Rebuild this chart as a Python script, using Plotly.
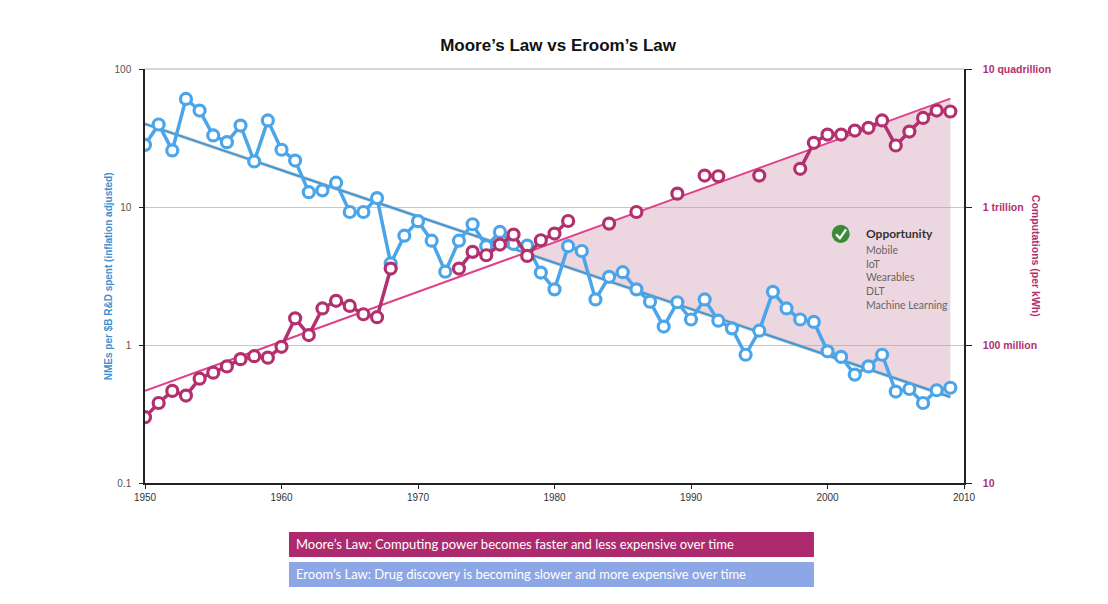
import numpy as np
import plotly.graph_objects as go

# data
years = list(range(1950, 2010))

# Eroom's law: NMEs per $B R&D spent (inflation adjusted)
eroom = [28.2, 39.6, 25.7, 60.7, 50.0, 33.0, 29.5, 38.9, 21.4, 42.4,
         26.0, 21.7, 12.8, 13.2, 15.0, 9.2, 9.2, 11.6, 3.9, 6.2,
         7.9, 5.7, 3.4, 5.7, 7.5, 5.2, 6.6, 5.4, 5.25, 3.35,
         2.53, 5.2, 4.8, 2.14, 3.12, 3.37, 2.53, 2.06, 1.36, 2.04,
         1.53, 2.14, 1.5, 1.32, 0.85, 1.27, 2.43, 1.84, 1.53, 1.47,
         0.9, 0.82, 0.61, 0.7, 0.85, 0.46, 0.48, 0.38, 0.47, 0.49]

# Moore's law: computations per kWh, in the plotted (left scale) units
moore = [0.30, 0.38, 0.465, 0.43, 0.57, 0.63, 0.70, 0.79, 0.83, 0.81,
         0.97, 1.56, 1.18, 1.84, 2.09, 1.92, 1.67, 1.59, 3.58, None,
         None, None, None, 3.58, 4.73, 4.47, 5.34, 6.31, 4.42, 5.74,
         6.42, 7.92, None, None, 7.58, None, 9.2, None, None, 12.5,
         None, 16.9, 16.7, None, None, 16.9, None, None, 18.9, 29.2,
         33.5, 33.5, 35.8, 37.5, 42.4, 27.9, 35.2, 44.2, 50.0, 49.2]

trend_years = [1950, 2009]
eroom_trend = [40, 0.42]
moore_trend = [0.465, 61]

right_ticks = [0.1, 1, 10, 100]
right_labels = ["10", "100 million", "1 trillion", "10 quadrillion"]
opportunity = ["Mobile", "IoT", "Wearables", "DLT", "Machine Learning"]

BLUE = "#4ba5e8"
MAGENTA = "#b3306f"
PINK = "#e0418b"

# where the two trend lines cross (log-linear)
lb = np.log10(eroom_trend)
lm = np.log10(moore_trend)
span = trend_years[1] - trend_years[0]
sb = (lb[1] - lb[0]) / span
sm = (lm[1] - lm[0]) / span
d = (lb[0] - lm[0]) / (sm - sb)
cross_x = trend_years[0] + d
cross_y = 10 ** (lb[0] + sb * d)

fig = go.Figure()

# opportunity gap
fig.add_trace(go.Scatter(
    x=[cross_x, trend_years[1], trend_years[1], cross_x],
    y=[cross_y, moore_trend[1], eroom_trend[1], cross_y],
    mode="lines", line=dict(width=0), fill="toself",
    fillcolor="rgba(200,140,170,0.35)", hoverinfo="skip"))

# trend lines
fig.add_trace(go.Scatter(x=trend_years, y=eroom_trend, mode="lines",
                         line=dict(color="rgba(160,160,160,0.5)", width=3.5)))
fig.add_trace(go.Scatter(x=trend_years, y=eroom_trend, mode="lines",
                         line=dict(color="#3d97d8", width=2)))
fig.add_trace(go.Scatter(x=trend_years, y=moore_trend, mode="lines",
                         line=dict(color=PINK, width=2)))

# series
fig.add_trace(go.Scatter(
    x=years, y=eroom, mode="lines+markers",
    line=dict(color=BLUE, width=3.5),
    marker=dict(symbol="circle", size=11, color="white",
                line=dict(color=BLUE, width=3.2))))
fig.add_trace(go.Scatter(
    x=years, y=moore, mode="lines+markers", yaxis="y2", connectgaps=False,
    line=dict(color=MAGENTA, width=3.5),
    marker=dict(symbol="circle", size=11, color="white",
                line=dict(color=MAGENTA, width=3.2))))

fig.update_layout(
    width=1108, height=604,
    margin=dict(l=137, r=152, t=61, b=129),
    paper_bgcolor="white", plot_bgcolor="white",
    showlegend=False,
    font=dict(family="Liberation Sans, Arial, sans-serif", size=10, color="#444"),
    title=dict(text="<b>Moore’s Law vs Eroom’s Law</b>", x=0.4965, xanchor="center",
               y=0.939, yanchor="middle",
               font=dict(size=17, color="#111", family="Liberation Sans, Arial")),
    xaxis=dict(range=[1950, 2010], tickvals=[1950, 1960, 1970, 1980, 1990, 2000, 2010],
               showgrid=False, zeroline=False, showline=True, linecolor="#222",
               linewidth=1.5, ticks="outside", ticklen=4, tickcolor="#222",
               tickfont=dict(size=10, color="#333")),
    yaxis=dict(type="log", range=[-1, 2], tickvals=[0.1, 1, 10, 100],
               ticktext=["0.1", "1", "10", "100"],
               showgrid=True, gridcolor="#c8c8c8", gridwidth=1,
               zeroline=False, showline=True, linecolor="#222", linewidth=1.5,
               ticks="outside", ticklen=4, tickcolor="#222", ticklabelstandoff=6,
               tickfont=dict(size=10, color="#555")),
    yaxis2=dict(type="log", range=[-1, 2], overlaying="y", side="right",
                tickvals=right_ticks, ticktext=["<b>%s</b>" % t for t in right_labels],
                showgrid=False, zeroline=False, showline=True, linecolor="#222",
                linewidth=1.5, ticks="outside", ticklen=6, tickcolor="#222",
                ticklabelstandoff=9,
                tickfont=dict(size=10.5, color=MAGENTA,
                              family="Liberation Sans, Arial")),
)

# top grid edge
fig.add_shape(type="line", xref="paper", yref="paper", x0=0, x1=1, y0=1, y1=1,
              line=dict(color="#c8c8c8", width=1.5))

# axis titles
fig.add_annotation(text="<b>NMEs per $B R&D spent (inflation adjusted)</b>",
                   xref="paper", yref="paper", x=-0.054, y=0.5, textangle=-90,
                   showarrow=False, font=dict(size=10, color="#3f8fd0"))
fig.add_annotation(text="<b>Computations (per kWh)</b>",
                   xref="paper", yref="paper", x=1.098, y=0.548, textangle=90,
                   showarrow=False, font=dict(size=10.5, color=MAGENTA))

# opportunity note: green tick badge
fig.add_shape(type="circle", xref="paper", yref="paper",
              x0=0.8385, x1=0.8605, y0=0.580, y1=0.6235,
              fillcolor="#3a8a3a", line=dict(width=0))
fig.add_shape(type="path", xref="paper", yref="paper",
              path="M 0.8438 0.6005 L 0.8485 0.5910 L 0.8560 0.6125",
              line=dict(color="white", width=2.2))
fig.add_annotation(text="<b>Opportunity</b>", xref="paper", yref="paper",
                   x=0.8775, y=0.6015, xanchor="left", yanchor="middle",
                   showarrow=False,
                   font=dict(family="Lato, Open Sans", size=12, color="#333"))
fig.add_annotation(text="<br>".join(opportunity), xref="paper", yref="paper",
                   x=0.8775, y=0.583, xanchor="left", yanchor="top", align="left",
                   showarrow=False,
                   font=dict(family="Lato, Open Sans", size=10.5, color="#666"))

# law boxes below the chart
boxes = [("Moore’s Law: Computing power becomes faster and less expensive over time",
          "#ad2a6e", -0.1184, -0.1787),
         ("Eroom’s Law: Drug discovery is becoming slower and more expensive over time",
          "#8ca6e6", -0.1908, -0.2512)]
for text, color, y1, y0 in boxes:
    fig.add_shape(type="rect", xref="paper", yref="paper",
                  x0=0.1758, x1=0.8168, y0=y0, y1=y1,
                  fillcolor=color, line=dict(width=0))
    fig.add_annotation(text=text, xref="paper", yref="paper",
                       x=0.182, y=(y0 + y1) / 2, xanchor="left", yanchor="middle",
                       showarrow=False,
                       font=dict(family="Lato, Open Sans", size=13, color="white"))

fig.write_html("out.html")
